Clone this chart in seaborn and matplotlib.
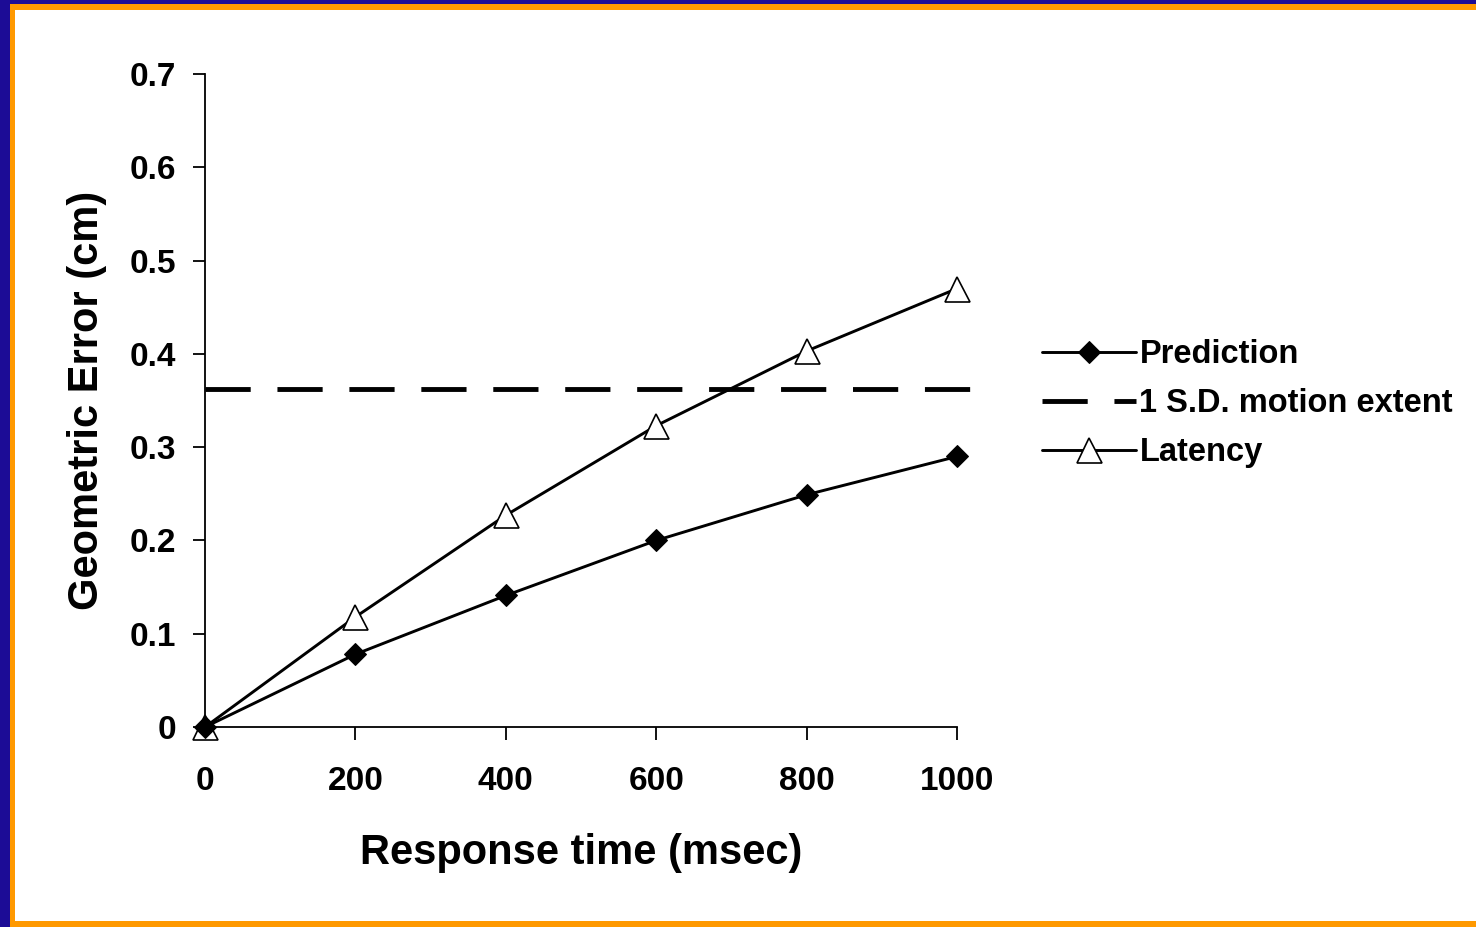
import pandas as pd
import seaborn as sns
import matplotlib.pyplot as plt
from matplotlib.patches import Rectangle

# Datos
response_time = [0, 200, 400, 600, 800, 1000]
prediction = [0.0, 0.078, 0.141, 0.200, 0.249, 0.290]
latency = [0.0, 0.118, 0.227, 0.323, 0.403, 0.470]
sd_motion_extent = 0.362
x_ticks = [0, 200, 400, 600, 800, 1000]
y_ticks = [0, 0.1, 0.2, 0.3, 0.4, 0.5, 0.6, 0.7]
y_tick_labels = ["0", "0.1", "0.2", "0.3", "0.4", "0.5", "0.6", "0.7"]

df = pd.DataFrame({"Response": response_time, "Prediction": prediction, "Latency": latency})

sns.set_style("white")
plt.rcParams["font.family"] = ["Liberation Sans", "DejaVu Sans"]
plt.rcParams["font.weight"] = "bold"

fig = plt.figure(figsize=(14.76, 9.27), dpi=100)
fig.patch.set_facecolor("#1c0c96")
# Marco naranja y fondo blanco
fig.add_artist(Rectangle((10 / 1476, 0), 1 - 10 / 1476, 1 - 4 / 927,
                         transform=fig.transFigure, facecolor="#ff9900", edgecolor="none", zorder=-2))
fig.add_artist(Rectangle((15 / 1476, 6 / 927), 1 - 15 / 1476, 1 - 16 / 927,
                         transform=fig.transFigure, facecolor="white", edgecolor="none", zorder=-1))

ax = fig.add_axes([0.1389, 0.2157, 0.5095, 0.7045])
ax.set_facecolor("none")

sns.lineplot(data=df, x="Response", y="Prediction", ax=ax, color="black", lw=2.1,
             marker="D", markersize=11, markerfacecolor="black", markeredgecolor="black",
             label="Prediction", clip_on=False, zorder=4)
ax.axhline(sd_motion_extent, xmin=0, xmax=1.02, color="black", lw=3.5,
           dashes=(9.3, 5.5), label="1 S.D. motion extent", clip_on=False)
sns.lineplot(data=df, x="Response", y="Latency", ax=ax, color="black", lw=2.1,
             marker="^", markersize=18, markerfacecolor="white", markeredgecolor="black",
             markeredgewidth=1.2, label="Latency", clip_on=False, zorder=3)

ax.set_xlim(0, 1000)
ax.set_ylim(0, 0.7)
ax.set_xticks(x_ticks)
ax.set_yticks(y_ticks)
ax.set_yticklabels(y_tick_labels)
ax.tick_params(axis="both", direction="out", length=9, width=1.3, colors="black",
               labelsize=24, bottom=True, left=True)
ax.tick_params(axis="y", pad=12)
ax.tick_params(axis="x", pad=19)
for lab in ax.get_xticklabels() + ax.get_yticklabels():
    lab.set_fontweight("bold")

for side in ["top", "right"]:
    ax.spines[side].set_visible(False)
for side in ["left", "bottom"]:
    ax.spines[side].set_color("black")
    ax.spines[side].set_linewidth(1.3)

ax.set_xlabel("Response time (msec)", fontsize=30, fontweight="bold", labelpad=26, color="black")
ax.set_ylabel("Geometric Error (cm)", fontsize=30, fontweight="bold", labelpad=16, color="black")

ax.legend(loc="center left", bbox_to_anchor=(1.095, 0.495), frameon=False, fontsize=23.5,
          handlelength=2.9, handletextpad=0.1, labelspacing=0.55, borderaxespad=0)
for t in ax.get_legend().get_texts():
    t.set_fontweight("bold")
    t.set_color("black")

plt.savefig("out.png", dpi=100, facecolor=fig.get_facecolor())
plt.close()
